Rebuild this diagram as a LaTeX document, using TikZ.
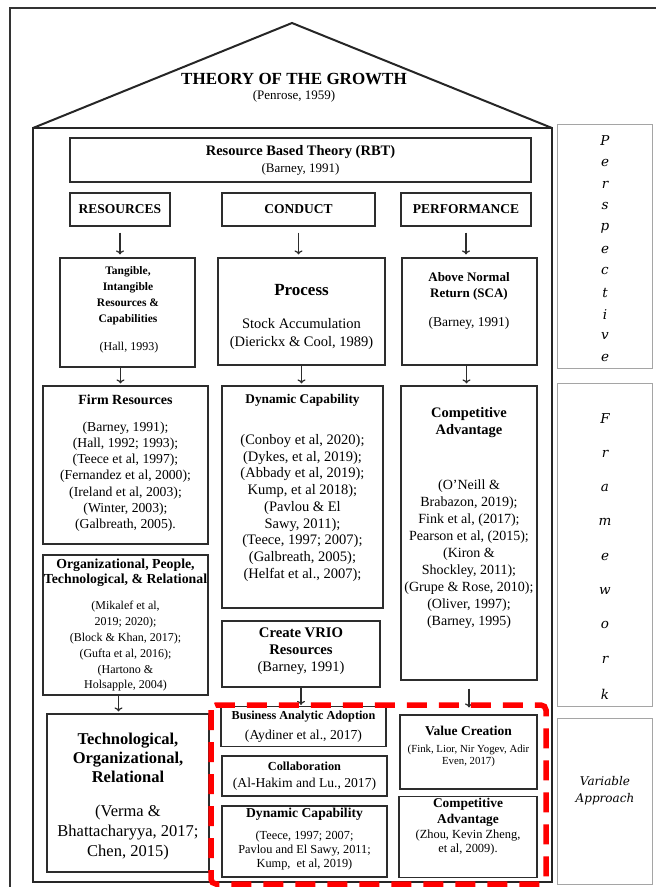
\documentclass[tikz,border=0pt]{standalone}
\usepackage{fontspec}
\setmainfont{Liberation Serif}
\newfontfamily\sidefont{DejaVu Serif}
\usetikzlibrary{arrows.meta, positioning, calc}
\definecolor{BoxLine}{RGB}{45, 45, 45}
\definecolor{SideLine}{RGB}{165, 165, 165}
\definecolor{FrameRed}{RGB}{255, 0, 0}
\newcommand{\setfs}[2]{\fontsize{#1pt}{#2pt}\selectfont}

\begin{document}
\begin{tikzpicture}[x=1pt, y=-1pt,
  house/.style={draw=black!85, line width=2pt},
  box/.style={draw=BoxLine, line width=1.2pt, inner sep=0pt},
  headbox/.style={box, font=\bfseries\setfs{13.5}{16}},
  sidebox/.style={draw=SideLine, line width=1pt, inner sep=0pt},
  txt/.style={inner sep=0pt, align=center},
  sidech/.style={inner sep=0pt, font=\sidefont\itshape\setfs{13.5}{16}},
  flow/.style={draw=BoxLine, line width=1.2pt, -{To[length=4pt, width=8pt]}},
  reddash/.style={draw=FrameRed, line width=5.5pt, dash pattern=on 20pt off 12pt, rounded corners=5pt}]
  \useasboundingbox (0,0) rectangle (656,887);
  \clip (0,0) rectangle (656,887);

  % Page frame
  \draw[line width=1.5pt, black!80] (10,900) -- (10,8) -- (680,8);

  % Roof and house
  \draw[house] (33,128) -- (292,23) -- (552,128);
  \draw[house] (33,128) rectangle (552,882);
  \node[txt, font=\bfseries\setfs{17}{20}] (growth) at (294,79) {THEORY OF THE GROWTH};
  \node[txt, font=\setfs{13}{15}] (penrose) at (294,96) {(Penrose, 1959)};

  % Resource Based Theory
  \node[box, minimum width=461pt, minimum height=44pt] (rbt) at (300.5,160) {};
  \node[txt, font=\bfseries\setfs{14.5}{17}] (rbt-h) at (300.5,152) {Resource Based Theory (RBT)};
  \node[txt, font=\setfs{13}{15}] (rbt-r) at (300.5,169) {(Barney, 1991)};

  % Column heads
  \node[headbox, minimum width=100pt, minimum height=33pt] (res) at (120,209.5) {RESOURCES};
  \node[headbox, minimum width=153pt, minimum height=33pt] (con) at (298.5,209.5) {CONDUCT};
  \node[headbox, minimum width=130pt, minimum height=33pt] (perf) at (466,209.5) {PERFORMANCE};

  % Second row
  \node[box, minimum width=135pt, minimum height=109pt] (tang) at (127.5,312.5) {};
  \node[txt, font=\bfseries\setfs{11.5}{16}] (tang-h) at (128,296) {Tangible,\\Intangible\\Resources \&\\Capabilities};
  \node[txt, font=\setfs{12}{14}] (tang-r) at (129,348) {(Hall, 1993)};

  \node[box, minimum width=167pt, minimum height=107pt] (proc) at (301.5,311.5) {};
  \node[txt, font=\bfseries\setfs{17}{20}] (proc-h) at (301.5,290) {Process};
  \node[txt, font=\setfs{14.5}{18}] (proc-r) at (301.5,334) {Stock Accumulation\\(Dierickx \& Cool, 1989)};

  \node[box, minimum width=135pt, minimum height=107pt] (anr) at (469.5,311.5) {};
  \node[txt, font=\bfseries\setfs{13}{16}] (anr-h) at (469,286) {Above Normal\\Return (SCA)};
  \node[txt, font=\setfs{13.5}{15}] (anr-r) at (469,323) {(Barney, 1991)};

  % Third row
  \node[box, minimum width=165pt, minimum height=158pt] (firm) at (125.5,465) {};
  \node[txt, font=\bfseries\setfs{14}{16}] (firm-h) at (125.5,400) {Firm Resources};
  \node[txt, font=\setfs{13.7}{16.2}] (firm-r) at (125.5,476.5) {(Barney, 1991);\\(Hall, 1992; 1993);\\(Teece et al, 1997);\\(Fernandez et al, 2000);\\(Ireland et al, 2003);\\(Winter, 2003);\\(Galbreath, 2005).};

  \node[box, minimum width=161pt, minimum height=222pt] (dyn) at (302.5,497) {};
  \node[txt, font=\bfseries\setfs{13.3}{16}] (dyn-h) at (302.5,400) {Dynamic Capability};
  \node[txt, font=\setfs{14.5}{16.75}] (dyn-r) at (302.5,508) {(Conboy et al, 2020);\\(Dykes, et al, 2019);\\(Abbady et al, 2019);\\Kump, et al 2018);\\(Pavlou \& El\\Sawy, 2011);\\(Teece, 1997; 2007);\\(Galbreath, 2005);\\(Helfat et al., 2007);};

  \node[box, minimum width=136pt, minimum height=294pt] (comp) at (469,533) {};
  \node[txt, font=\bfseries\setfs{14.5}{17}] (comp-h) at (469,422.5) {Competitive\\Advantage};
  \node[txt, font=\setfs{14}{17}] (comp-r) at (469,554) {(O'Neill \&\\Brabazon, 2019);\\Fink et al, (2017);\\Pearson et al, (2015);\\(Kiron \&\\Shockley, 2011);\\(Grupe \& Rose, 2010);\\(Oliver, 1997);\\(Barney, 1995)};

  % Fourth row
  \node[box, minimum width=165pt, minimum height=140pt] (org) at (125.5,625) {};
  \node[txt, font=\bfseries\setfs{13.8}{15}] (org-h) at (125.5,572.5) {Organizational, People,\\Technological, \& Relational};
  \node[txt, font=\setfs{12}{15.8}] (org-r) at (125.5,646.5) {(Mikalef et al,\\2019; 2020);\\(Block \& Khan, 2017);\\(Gufta et al, 2016);\\(Hartono \&\\Holsapple, 2004)};

  \node[box, minimum width=158pt, minimum height=66pt] (vrio) at (301,654) {};
  \node[txt, font=\bfseries\setfs{14.7}{17}] (vrio-h) at (301,641.5) {Create VRIO\\Resources};
  \node[txt, font=\setfs{14.5}{17}] (vrio-r) at (301,668) {(Barney, 1991)};

  % Bottom row
  \node[box, minimum width=162pt, minimum height=158pt] (tech) at (128,793) {};
  \node[txt, font=\bfseries\setfs{16.5}{19}] (tech-h) at (128,758) {Technological,\\Organizational,\\Relational};
  \node[txt, font=\setfs{16.5}{20}] (tech-r) at (128,833) {(Verma \&\\Bhattacharyya, 2017;\\Chen, 2015)};

  \node[box, minimum width=165pt, minimum height=40pt] (baa) at (303.5,726.5) {};
  \node[txt, font=\bfseries\setfs{12.2}{14}] (baa-h) at (303.5,717) {Business Analytic Adoption};
  \node[txt, font=\setfs{13.7}{15}] (baa-r) at (303.5,736.5) {(Aydiner et al., 2017)};

  \node[box, minimum width=165pt, minimum height=40pt] (coll) at (304.5,776) {};
  \node[txt, font=\bfseries\setfs{12.3}{14}] (coll-h) at (304.5,766) {Collaboration};
  \node[txt, font=\setfs{13.6}{15}] (coll-r) at (304.5,784.5) {(Al-Hakim and Lu., 2017)};

  \node[box, minimum width=165pt, minimum height=71pt] (dyn2) at (304.5,841.5) {};
  \node[txt, font=\bfseries\setfs{13.6}{15}] (dyn2-h) at (304.5,814) {Dynamic Capability};
  \node[txt, font=\setfs{12.3}{14}] (dyn2-r) at (304.5,851) {(Teece, 1997; 2007;\\Pavlou and El Sawy, 2011;\\Kump,\ \ et al, 2019)};

  \node[box, minimum width=137pt, minimum height=74pt] (val) at (468.5,752) {};
  \node[txt, font=\bfseries\setfs{13.5}{15}] (val-h) at (468.5,731) {Value Creation};
  \node[txt, font=\setfs{10.8}{12}] (val-r) at (468.5,756) {(Fink, Lior, Nir Yogev, Adir\\Even, 2017)};

  \node[box, minimum width=138pt, minimum height=81pt] (comp2) at (468,837) {};
  \node[txt, font=\bfseries\setfs{13.4}{16}] (comp2-h) at (468,812) {Competitive\\Advantage};
  \node[txt, font=\setfs{12.4}{14}] (comp2-r) at (468,843) {(Zhou, Kevin Zheng,\\et al, 2009).};

  % Connectors
  \draw[flow, shorten <=6pt, shorten >=3pt] (res.south) -- (res.south |- tang.north);
  \draw[flow, shorten <=6pt, shorten >=3pt] (con.south) -- (con.south |- proc.north);
  \draw[flow, shorten <=6pt, shorten >=3pt] (perf.south) -- (perf.south |- anr.north);
  \draw[flow, shorten >=2pt] ([xshift=-7pt]tang.south) -- ([xshift=-7pt]tang.south |- firm.north);
  \draw[flow, shorten >=2pt] (proc.south) -- (proc.south |- dyn.north);
  \draw[flow, shorten >=2pt] ([xshift=-3pt]anr.south) -- ([xshift=-3pt]anr.south |- comp.north);
  \draw[flow, shorten >=2pt] ([xshift=-7pt]org.south) -- ([xshift=-7pt]org.south |- tech.north);
  \draw[flow, shorten >=1pt] (vrio.south) -- (vrio.south |- baa.north);
  \draw[flow, shorten <=8pt, shorten >=7pt] (comp.south) -- (comp.south |- val.north);

  % Variables in the study
  \draw[reddash] (211,705) rectangle (546,884);

  % Side labels
  \node[sidebox, minimum width=95pt, minimum height=244pt] (persp) at (604.5,246) {};
  \foreach \ch [count=\i] in {P,e,r,s,p,e,c,t,i,v,e}
    \node[sidech] (p\i) at (605,{141+(\i-1)*21.7}) {\ch};
  \node[sidebox, minimum width=95pt, minimum height=323pt] (frame) at (604.5,544.5) {};
  \foreach \ch [count=\i] in {F,r,a,m,e,w,o,r,k}
    \node[sidech] (f\i) at (605,{419+(\i-1)*34.4}) {\ch};
  \node[sidebox, minimum width=95pt, minimum height=166pt] (var) at (604.5,801) {};
  \node[txt, font=\sidefont\itshape\setfs{12}{17}] (var-t) at (605,790.5) {Variable\\Approach};
\end{tikzpicture}
\end{document}
